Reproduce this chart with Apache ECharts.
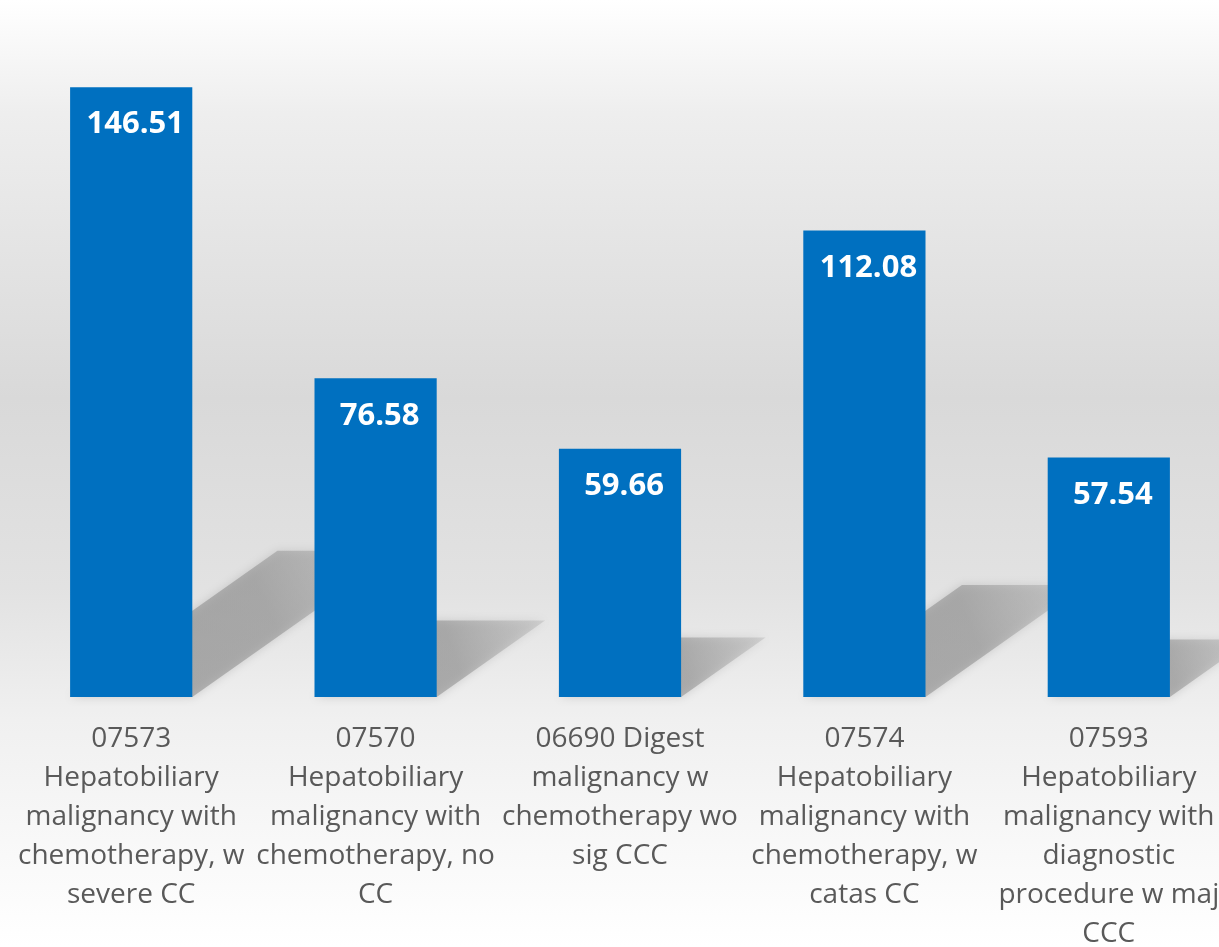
<!DOCTYPE html>
<html>
<head>
<meta charset="utf-8">
<script src="https://cdn.jsdelivr.net/npm/echarts@6/dist/echarts.min.js"></script>
<style>html,body{margin:0;padding:0;background:#fff}#c{width:1219px;height:947px}</style>
</head>
<body>
<div id="c"></div>
<script>
const categories = [
  "07573\nHepatobiliary\nmalignancy with\nchemotherapy, w\nsevere CC",
  "07570\nHepatobiliary\nmalignancy with\nchemotherapy, no\nCC",
  "06690 Digest\nmalignancy w\nchemotherapy wo\nsig CCC",
  "07574\nHepatobiliary\nmalignancy with\nchemotherapy, w\ncatas CC",
  "07593\nHepatobiliary\nmalignancy with\ndiagnostic\nprocedure w maj\nCCC"
];
const values = [146.51, 76.58, 59.66, 112.08, 57.54];

const FONT = '"Open Sans", "Noto Sans", sans-serif';
const chart = echarts.init(document.getElementById('c'));
chart.setOption({
  animation: false,
  backgroundColor: {
    type: 'linear', x: 0, y: 0, x2: 0, y2: 1,
    colorStops: [
      {offset: 0, color: '#ffffff'},
      {offset: 0.12, color: '#eeeeee'},
      {offset: 0.42, color: '#d9d9d9'},
      {offset: 0.62, color: '#e2e2e2'},
      {offset: 0.76, color: '#f0f0f0'},
      {offset: 1, color: '#ffffff'}
    ]
  },
  grid: {left: 9, width: 1222, top: 31, bottom: 250, outerBoundsMode: 'none', containLabel: false},
  xAxis: {
    type: 'category',
    data: categories,
    axisLine: {show: false},
    axisTick: {show: false},
    axisLabel: {
      interval: 0, margin: 23, color: '#595959', fontSize: 28, lineHeight: 39,
      fontFamily: FONT, align: 'center'
    }
  },
  yAxis: {type: 'value', min: 0, max: 160, show: false, splitLine: {show: false}},
  series: [
    {
      type: 'custom',
      z: 1,
      silent: true,
      data: values.map((v, i) => [i, v]),
      renderItem: function (params, api) {
        const base = api.coord([api.value(0), 0]);
        const top = api.coord([api.value(0), api.value(1)]);
        const band = api.size([1, 0])[0];
        const w = band * 0.5;
        const h = base[1] - top[1];
        const dx = 0.34 * h, dy = 0.24 * h;
        const xl = base[0] - w / 2, xr = base[0] + w / 2, yb = base[1];
        return {
          type: 'polygon',
          shape: {points: [[xl, yb], [xr, yb], [xr + dx, yb - dy], [xl + dx, yb - dy]]},
          style: {
            fill: {
              type: 'linear', x: 0, y: 1, x2: 1, y2: 0,
              colorStops: [
                {offset: 0, color: 'rgba(140,140,140,0.6)'},
                {offset: 0.6, color: 'rgba(140,140,140,0.55)'},
                {offset: 1, color: 'rgba(160,160,160,0.3)'}
              ]
            },
            shadowBlur: 10,
            shadowColor: 'rgba(140,140,140,0.6)'
          }
        };
      }
    },
    {
      type: 'bar',
      z: 2,
      data: values,
      barWidth: '50%',
      itemStyle: {color: '#0070C0'},
      label: {
        show: true, position: 'insideTop', distance: 22, offset: [4, 0],
        color: '#ffffff', fontSize: 31, fontWeight: 'bold', fontFamily: FONT,
        formatter: p => p.value.toFixed(2)
      }
    }
  ]
});
</script>
</body>
</html>
